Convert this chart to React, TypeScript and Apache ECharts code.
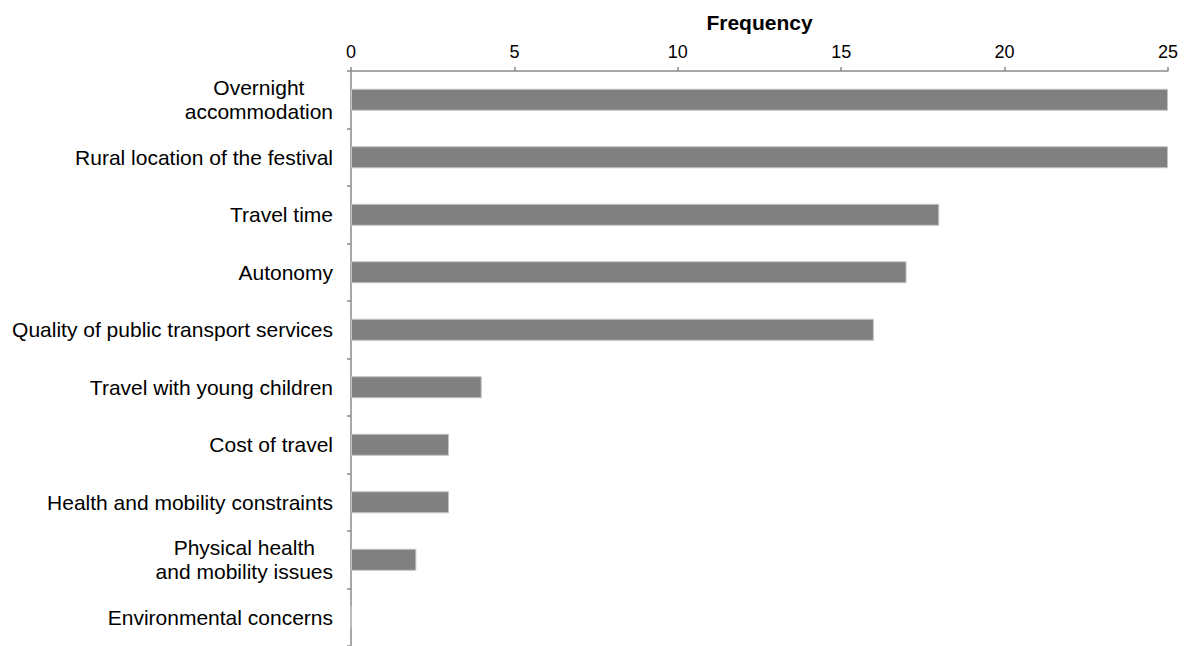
import React, { useEffect, useRef } from "react";
import * as echarts from "echarts";

const categories = [
  "Overnight\naccommodation",
  "Rural location of the festival",
  "Travel time",
  "Autonomy",
  "Quality of public transport services",
  "Travel with young children",
  "Cost of travel",
  "Health and mobility constraints",
  "Physical health\nand mobility issues",
  "Environmental concerns",
];
const frequencies = [25, 25, 18, 17, 16, 4, 3, 3, 2, 0];
const xTicks = [0, 5, 10, 15, 20, 25];

const FONT = "'Liberation Sans', Arial, Helvetica, sans-serif";
const AXIS_COLOR = "#8a8a8a";

export default function App() {
  const ref = useRef<HTMLDivElement>(null);
  useEffect(() => {
    document.body.style.margin = "0";
    if (!ref.current) return;
    const chart = echarts.init(ref.current, null, { renderer: "svg" });
    chart.setOption({
      animation: false,
      backgroundColor: "#ffffff",
      grid: { left: 351, right: 16, top: 71, height: 577 },
      xAxis: {
        type: "value",
        position: "top",
        min: xTicks[0],
        max: xTicks[xTicks.length - 1],
        interval: 5,
        name: "Frequency",
        nameLocation: "middle",
        nameGap: 38,
        nameTextStyle: { fontFamily: FONT, fontSize: 21, fontWeight: "bold", color: "#000" },
        axisLine: { show: true, lineStyle: { color: AXIS_COLOR, width: 1.5 } },
        axisTick: { show: true, length: 4, inside: false, lineStyle: { color: AXIS_COLOR, width: 1.5 } },
        axisLabel: { fontFamily: FONT, fontSize: 18, color: "#000", margin: 10 },
        splitLine: { show: false },
      },
      yAxis: {
        type: "category",
        inverse: true,
        data: categories,
        axisLine: { show: true, lineStyle: { color: AXIS_COLOR, width: 1.5 } },
        axisTick: { show: true, length: 4, lineStyle: { color: AXIS_COLOR, width: 1.5 } },
        axisLabel: {
          margin: 18,
          fontFamily: FONT,
          fontSize: 21,
          color: "#000",
          formatter: (v: string) =>
            v
              .split("\n")
              .map((s) => "{c|" + s + "}")
              .join("\n"),
          rich: {
            c: { align: "center", fontFamily: FONT, fontSize: 21, color: "#000", lineHeight: 24 },
          },
        },
        splitLine: { show: false },
      },
      series: [
        {
          type: "bar",
          data: frequencies,
          barWidth: 22,
          itemStyle: { color: "#808080", borderColor: "#c4c4c4", borderWidth: 1 },
          silent: true,
        },
      ],
    });
    return () => chart.dispose();
  }, []);
  return <div ref={ref} style={{ width: 1184, height: 646 }} />;
}
